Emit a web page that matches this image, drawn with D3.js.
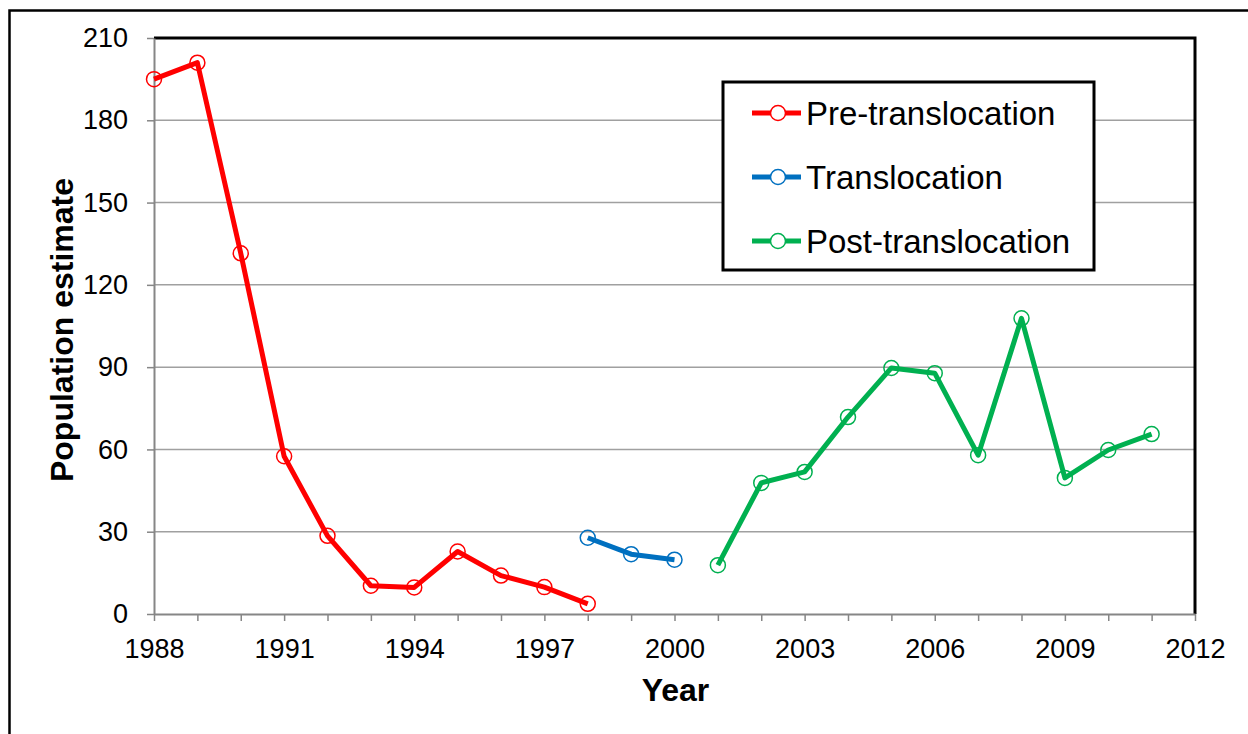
<!DOCTYPE html>
<html lang="en">
<head>
  <meta charset="UTF-8" />
  <title>Population estimate by year</title>
  <script src="https://cdnjs.cloudflare.com/ajax/libs/d3/7.8.2/d3.min.js"></script>
  <style>
    body { margin: 0; padding: 0; background: #fff; }
    svg { display: block; font-family: "Liberation Sans", Arial, sans-serif; }
  </style>
</head>
<body>
<svg id="chart" width="1248" height="734"></svg>
<script>
// ---- data ----
const preYears  = [1988, 1989, 1990, 1991, 1992, 1993, 1994, 1995, 1996, 1997, 1998];
const preValues = [195, 201, 131.5, 57.5, 28.5, 10.3, 9.7, 22.8, 14, 9.8, 3.7];

const transYears  = [1998, 1999, 2000];
const transValues = [27.8, 21.8, 19.8];

const postYears  = [2001, 2002, 2003, 2004, 2005, 2006, 2007, 2008, 2009, 2010, 2011];
const postValues = [17.8, 47.8, 51.8, 71.8, 89.7, 87.8, 57.9, 107.8, 49.6, 59.8, 65.6];

const seriesNames  = ["Pre-translocation", "Translocation", "Post-translocation"];
const seriesColors = ["#ff0000", "#0070c0", "#00b050"];

const yTicks = [0, 30, 60, 90, 120, 150, 180, 210];
const xLabelYears = [1988, 1991, 1994, 1997, 2000, 2003, 2006, 2009, 2012];

/* -------- setup -------- */
const svg = d3.select("#chart");
const plotLeft = 154, plotRight = 1195, plotTop = 38, plotBottom = 614;

const x = d3.scaleLinear().domain([1988, 2012]).range([plotLeft, plotRight]);
const y = d3.scaleLinear().domain([0, 210]).range([plotBottom, plotTop]);

// outer chart-area border (runs off the right and bottom edge)
svg.append("rect")
  .attr("x", 9.5).attr("y", 10.5)
  .attr("width", 1300).attr("height", 800)
  .attr("fill", "none").attr("stroke", "#000").attr("stroke-width", 2.5);

// gridlines
svg.append("g")
  .selectAll("line")
  .data(yTicks.filter(t => t > 0 && t < 210))
  .join("line")
  .attr("x1", plotLeft).attr("x2", plotRight)
  .attr("y1", d => y(d)).attr("y2", d => y(d))
  .attr("stroke", "#a0a0a0").attr("stroke-width", 1.5);

// plot border: top and right in black
svg.append("path")
  .attr("d", `M${plotLeft},${plotTop}H${plotRight}V${plotBottom}`)
  .attr("fill", "none").attr("stroke", "#000").attr("stroke-width", 3);

// y axis
const yAxis = svg.append("g")
  .attr("transform", `translate(${plotLeft},0)`)
  .call(d3.axisLeft(y).tickValues(yTicks).tickSize(7).tickPadding(19).tickSizeOuter(0));
yAxis.select(".domain").attr("stroke", "#868686").attr("stroke-width", 2);
yAxis.selectAll(".tick line").attr("stroke", "#868686").attr("stroke-width", 1.5);
yAxis.selectAll(".tick text")
  .attr("font-size", 27).attr("fill", "#000")
  .attr("font-family", "'Liberation Sans', Arial, sans-serif");

// x axis: a tick every year, labels every three years
const xAxis = svg.append("g")
  .attr("transform", `translate(0,${plotBottom})`)
  .call(d3.axisBottom(x).tickValues(d3.range(1988, 2013)).tickSize(7).tickSizeOuter(0)
    .tickFormat(d => xLabelYears.includes(d) ? d : ""));
xAxis.select(".domain").attr("stroke", "#868686").attr("stroke-width", 2);
xAxis.selectAll(".tick line").attr("stroke", "#868686").attr("stroke-width", 1.5);
xAxis.selectAll(".tick text")
  .attr("y", 25)
  .attr("font-size", 27).attr("fill", "#000")
  .attr("font-family", "'Liberation Sans', Arial, sans-serif");

// axis titles
svg.append("text")
  .attr("x", (plotLeft + plotRight) / 2 + 1).attr("y", 701)
  .attr("text-anchor", "middle")
  .attr("font-size", 32).attr("font-weight", "bold")
  .text("Year");

svg.append("text")
  .attr("transform", "translate(73,330) rotate(-90)")
  .attr("text-anchor", "middle")
  .attr("font-size", 32).attr("font-weight", "bold")
  .text("Population estimate");

/* -------- series -------- */
const series = [
  { years: preYears, values: preValues },
  { years: transYears, values: transValues },
  { years: postYears, values: postValues }
];

const line = d3.line().x(d => x(d[0])).y(d => y(d[1]));

series.forEach((s, i) => {
  const pts = s.years.map((yr, j) => [yr, s.values[j]]);
  const g = svg.append("g");
  g.append("path")
    .datum(pts)
    .attr("d", line)
    .attr("fill", "none")
    .attr("stroke", seriesColors[i])
    .attr("stroke-width", 5)
    .attr("stroke-linejoin", "round");
  g.selectAll("circle")
    .data(pts)
    .join("circle")
    .attr("cx", d => x(d[0])).attr("cy", d => y(d[1]))
    .attr("r", 7.5)
    .attr("fill", "none")
    .attr("stroke", seriesColors[i])
    .attr("stroke-width", 1.5);
});

/* -------- legend -------- */
const legend = svg.append("g").attr("transform", "translate(723,82)");
legend.append("rect")
  .attr("width", 371).attr("height", 188)
  .attr("fill", "#fff").attr("stroke", "#000").attr("stroke-width", 3);

seriesNames.forEach((name, i) => {
  const row = legend.append("g").attr("transform", `translate(0,${31 + i * 64})`);
  row.append("line")
    .attr("x1", 29).attr("x2", 78)
    .attr("stroke", seriesColors[i]).attr("stroke-width", 5);
  row.append("circle")
    .attr("cx", 55).attr("r", 7.5)
    .attr("fill", "#fff")
    .attr("stroke", seriesColors[i]).attr("stroke-width", 1.5);
  row.append("text")
    .attr("x", 83).attr("y", 12)
    .attr("font-size", 33)
    .text(name);
});
</script>
</body>
</html>
